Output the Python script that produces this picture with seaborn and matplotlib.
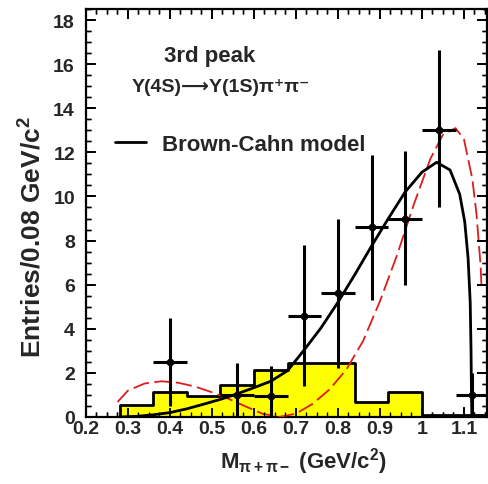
import numpy as np
import pandas as pd
import matplotlib
matplotlib.use("Agg")
import matplotlib.pyplot as plt
from matplotlib.lines import Line2D
from matplotlib.ticker import MultipleLocator, FixedLocator, FixedFormatter
import seaborn as sns

# ---------------- data ----------------
hist_edges = [0.28, 0.36, 0.44, 0.52, 0.60, 0.68, 0.76, 0.84, 0.92, 1.00, 1.08, 1.16]
hist_vals = [0.55, 1.15, 0.95, 1.45, 2.15, 2.45, 2.45, 0.70, 1.15, 0.10, 0.10]

pt_x = [0.40, 0.56, 0.64, 0.72, 0.80, 0.88, 0.96, 1.04, 1.12]
pt_y = [2.5, 1.0, 0.95, 4.6, 5.6, 8.6, 9.0, 13.0, 1.0]
pt_err_lo = [2.0, 1.0, 0.95, 3.2, 3.4, 3.3, 3.0, 3.5, 1.0]
pt_err_hi = [2.0, 1.45, 1.35, 3.2, 3.4, 3.3, 3.05, 3.65, 1.0]
pt_xerr = 0.04

bc_x = [0.28, 0.32, 0.36, 0.40, 0.44, 0.48, 0.52, 0.56, 0.60, 0.64, 0.68,
        0.72, 0.76, 0.80, 0.84, 0.88, 0.92, 0.96, 1.00, 1.035, 1.067, 1.09,
        1.102, 1.11, 1.115, 1.117, 1.118, 1.119]
bc_y = [0.0, 0.03, 0.1, 0.2, 0.37, 0.58, 0.8, 1.05, 1.33, 1.62, 2.1,
        3.05, 4.05, 5.2, 6.45, 7.75, 9.0, 10.2, 11.1, 11.55, 11.2, 10.1,
        8.85, 7.2, 5.2, 3.0, 1.0, 0.0]

red_x = [0.275, 0.30, 0.34, 0.38, 0.42, 0.46, 0.50, 0.54, 0.58, 0.62, 0.66,
         0.70, 0.74, 0.78, 0.82, 0.86, 0.90, 0.94, 0.98, 1.02, 1.05, 1.08,
         1.10, 1.12, 1.13, 1.14, 1.142]
red_y = [0.68, 1.2, 1.52, 1.62, 1.55, 1.38, 1.12, 0.82, 0.48, 0.15, 0.0,
         0.15, 0.6, 1.25, 2.15, 3.45, 5.25, 7.3, 9.6, 11.7, 12.8, 13.1,
         12.6, 10.8, 9.2, 6.8, 5.8]

x_ticks = [0.2, 0.3, 0.4, 0.5, 0.6, 0.7, 0.8, 0.9, 1.0, 1.1]
x_tick_labels = ["0.2", "0.3", "0.4", "0.5", "0.6", "0.7", "0.8", "0.9", "1", "1.1"]
y_ticks = [0, 2, 4, 6, 8, 10, 12, 14, 16, 18]
y_tick_labels = [str(v) for v in y_ticks]
x_minor_step = 0.025
y_minor_step = 0.5
x_range = (0.2, 1.155)
y_range = (0, 18.5)

# ---------------- style ----------------
sns.set_style("ticks")
plt.rcParams["font.family"] = ["Liberation Sans", "DejaVu Sans"]
plt.rcParams["mathtext.fontset"] = "custom"
plt.rcParams["mathtext.rm"] = "Liberation Sans:bold"
plt.rcParams["mathtext.bf"] = "Liberation Sans:bold"
plt.rcParams["mathtext.it"] = "Liberation Sans:bold"
plt.rcParams["mathtext.sf"] = "Liberation Sans:bold"

fig = plt.figure(figsize=(4.89, 4.85), dpi=100)
ax = fig.add_axes([86 / 489, 1 - 418 / 485, (487 - 86) / 489, (418 - 10) / 485])

centers = [(hist_edges[i] + hist_edges[i + 1]) / 2 for i in range(len(hist_vals))]
hdf = pd.DataFrame({"m": centers, "w": hist_vals})
sns.histplot(data=hdf, x="m", weights="w", bins=hist_edges, element="step",
             fill=True, color="#ffff00", alpha=1.0, edgecolor="black",
             linewidth=2.0, ax=ax, zorder=1)

rdf = pd.DataFrame({"m": red_x, "y": red_y})
sns.lineplot(data=rdf, x="m", y="y", ax=ax, color="#dd1c1c", linewidth=1.3,
             linestyle=(0, (9, 3)), zorder=3)

bdf = pd.DataFrame({"m": bc_x, "y": bc_y})
sns.lineplot(data=bdf, x="m", y="y", ax=ax, color="black", linewidth=2.0,
             zorder=4)

ax.errorbar(pt_x, pt_y, xerr=pt_xerr, yerr=[pt_err_lo, pt_err_hi], fmt="o",
            color="black", markersize=4.5, elinewidth=2.2, capsize=0, zorder=5)

ax.set_xlim(*x_range)
ax.set_ylim(*y_range)

for s in ax.spines.values():
    s.set_visible(True)
    s.set_linewidth(1.6)
    s.set_color("black")

ax.xaxis.set_major_locator(FixedLocator(x_ticks))
ax.xaxis.set_major_formatter(FixedFormatter(x_tick_labels))
ax.xaxis.set_minor_locator(MultipleLocator(x_minor_step))
ax.yaxis.set_major_locator(FixedLocator(y_ticks))
ax.yaxis.set_major_formatter(FixedFormatter(y_tick_labels))
ax.yaxis.set_minor_locator(MultipleLocator(y_minor_step))

ax.set_xlabel(r"M$_{\pi+\pi-}$ (GeV/c$^{2}$)", fontsize=16, fontweight="bold")
ax.xaxis.set_label_coords(0.541, -0.068)
ax.set_ylabel(r"Entries/0.08 GeV/c$^{2}$", fontsize=19, fontweight="bold")
ax.yaxis.set_label_coords(-0.100, 0.444)

ax.text(0.309, 0.885, "3rd peak", transform=ax.transAxes, ha="center",
        va="center", fontsize=16, fontweight="bold")
ax.text(0.337, 0.809, "Υ(4S)⟶Υ(1S)π⁺π⁻", transform=ax.transAxes, ha="center",
        va="center", fontsize=14, fontweight="bold")

handle = Line2D([], [], color="black", linewidth=2.0)
leg = ax.legend([handle], ["Brown-Cahn model"], loc="center left",
                bbox_to_anchor=(0.072, 0.669), frameon=False, borderpad=0,
                borderaxespad=0, handlelength=1.4, handletextpad=0.7,
                prop={"size": 16, "weight": "bold"})

ax.tick_params(which="both", direction="in", top=True, right=True,
               bottom=True, left=True, color="black",
               labeltop=False, labelright=False)
ax.tick_params(which="major", length=7, width=1.3)
ax.tick_params(which="minor", length=3.5, width=1.0)
ax.tick_params(axis="x", which="major", labelsize=14, pad=2)
ax.tick_params(axis="y", which="major", labelsize=14, pad=8)
for lab in ax.get_xticklabels() + ax.get_yticklabels():
    lab.set_fontweight("bold")

# explicit inward tick marks on all four sides (ROOT style), drawn as
# line collections at the tick positions so they always render
fig.canvas.draw()
bbox = ax.get_window_extent()
major_px, minor_px = 9.5, 4.8
fx_major, fx_minor = major_px / bbox.width, minor_px / bbox.width
fy_major, fy_minor = major_px / bbox.height, minor_px / bbox.height
x_minor = [v for v in np.arange(x_range[0], x_range[1] + 1e-9, x_minor_step)
           if min(abs(v - t) for t in x_ticks) > 1e-6]
y_minor = [v for v in np.arange(y_range[0], y_range[1] + 1e-9, y_minor_step)
           if min(abs(v - t) for t in y_ticks) > 1e-6]
xt = ax.get_xaxis_transform()
yt = ax.get_yaxis_transform()
for xs, ln, lw in ((x_ticks, fy_major, 1.3), (x_minor, fy_minor, 1.0)):
    ax.vlines(xs, 0, ln, transform=xt, colors="black", linewidth=lw, zorder=8)
    ax.vlines(xs, 1 - ln, 1, transform=xt, colors="black", linewidth=lw, zorder=8)
for ys, ln, lw in ((y_ticks, fx_major, 1.3), (y_minor, fx_minor, 1.0)):
    ax.hlines(ys, 0, ln, transform=yt, colors="black", linewidth=lw, zorder=8)
    ax.hlines(ys, 1 - ln, 1, transform=yt, colors="black", linewidth=lw, zorder=8)
ax.set_xlim(*x_range)
ax.set_ylim(*y_range)

fig.savefig("out.png", dpi=100, facecolor="white")
